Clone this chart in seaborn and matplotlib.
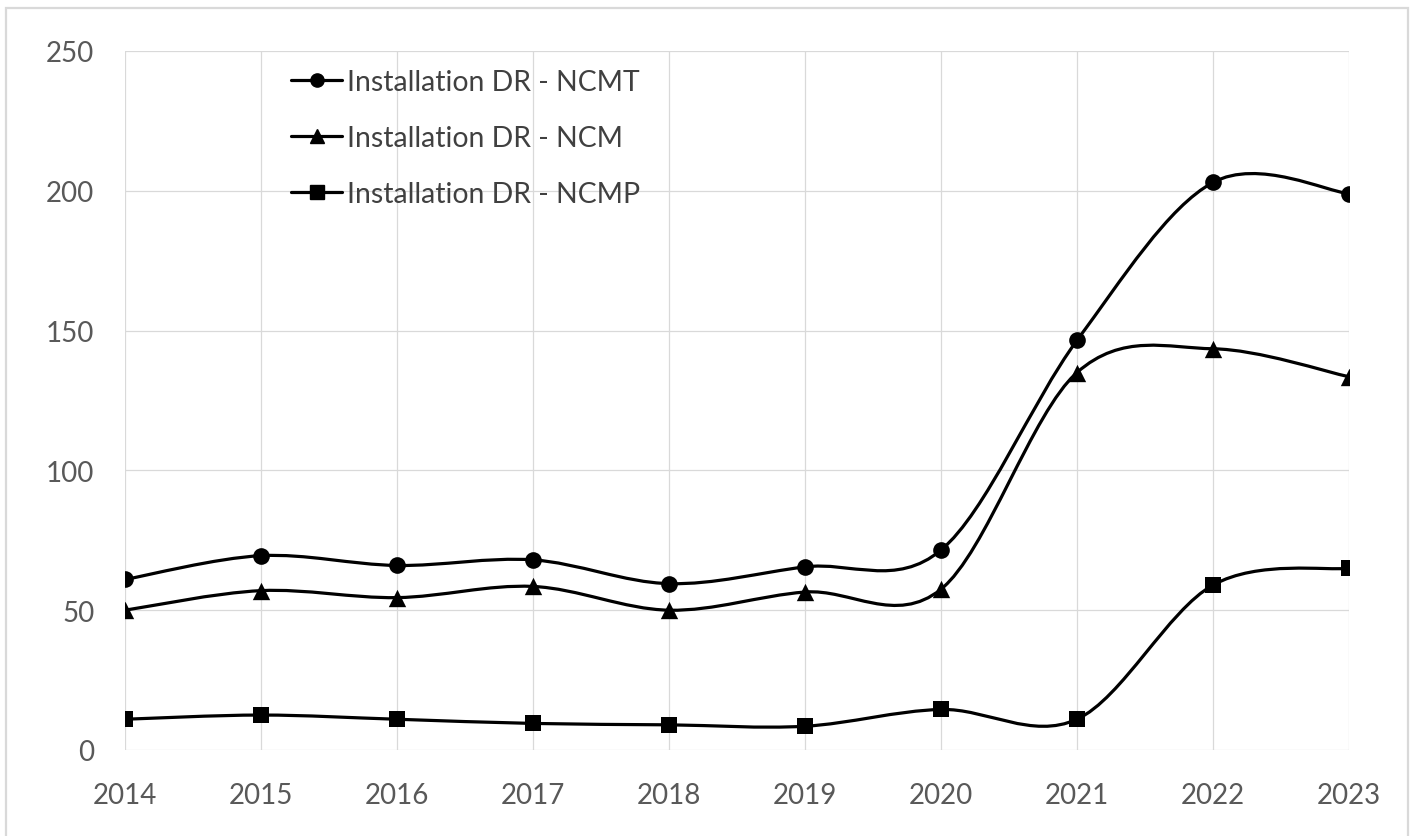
import matplotlib
matplotlib.use("Agg")
import matplotlib.pyplot as plt
from matplotlib.path import Path
from matplotlib.patches import PathPatch, Rectangle
from matplotlib.lines import Line2D
import pandas as pd
import seaborn as sb

# données
years = [2014, 2015, 2016, 2017, 2018, 2019, 2020, 2021, 2022, 2023]
ncmt = [61, 69.5, 66, 68, 59.5, 65.5, 71.5, 146.5, 203, 199]
ncm = [50, 57, 54.5, 58.5, 50, 56.5, 57.5, 135, 143.5, 133.5]
ncmp = [11, 12.5, 11, 9.5, 9, 8.5, 14.5, 11, 59, 65]
labels = ["Installation DR - NCMT", "Installation DR - NCM", "Installation DR - NCMP"]
markers = ["o", "^", "s"]
msizes = [12, 12.5, 11.5]

sb.set_style("white")
plt.rcParams["font.family"] = ["Lato", "DejaVu Sans"]

df = pd.DataFrame({
    "year": years * 3,
    "value": ncmt + ncm + ncmp,
    "serie": [labels[0]] * 10 + [labels[1]] * 10 + [labels[2]] * 10,
})

fig = plt.figure(figsize=(14.16, 8.37), dpi=100)
ax = fig.add_axes([125 / 1416, 1 - 751 / 837, (1349 - 125) / 1416, (751 - 52) / 837])

# cadre du graphique (style Excel)
fig.patches.append(Rectangle((6 / 1416, -0.05), 1402 / 1416, 1.05 - 9 / 837,
                             transform=fig.transFigure, fill=False,
                             edgecolor="#d9d9d9", linewidth=1.6))


def smooth_path(xs, ys):
    # courbe lissée façon Excel (Bezier type Catmull-Rom)
    pts = list(zip(xs, ys))
    n = len(pts)
    verts = [pts[0]]
    codes = [Path.MOVETO]
    for i in range(n - 1):
        p0 = pts[max(i - 1, 0)]
        p1 = pts[i]
        p2 = pts[i + 1]
        p3 = pts[min(i + 2, n - 1)]
        c1 = (p1[0] + (p2[0] - p0[0]) / 6, p1[1] + (p2[1] - p0[1]) / 6)
        c2 = (p2[0] - (p3[0] - p1[0]) / 6, p2[1] - (p3[1] - p1[1]) / 6)
        verts += [c1, c2, p2]
        codes += [Path.CURVE4] * 3
    return Path(verts, codes)


for vals in [ncmt, ncm, ncmp]:
    ax.add_patch(PathPatch(smooth_path(years, vals), fill=False,
                           edgecolor="black", linewidth=2.3, zorder=3))

for lab, m, ms in zip(labels, markers, msizes):
    sb.scatterplot(data=df[df["serie"] == lab], x="year", y="value",
                   marker=m, s=ms ** 2, color="black", edgecolor="black",
                   linewidth=0, ax=ax, zorder=4, legend=False)

ax.set_xlim(2014, 2023)
ax.set_ylim(0, 250)
ax.set_xticks(years)
ax.set_xticklabels([str(y) for y in years])
ax.set_yticks([0, 50, 100, 150, 200, 250])
ax.set_xlabel("")
ax.set_ylabel("")
ax.grid(True, color="#d9d9d9", linewidth=0.9)
ax.set_axisbelow(True)
for s in ax.spines.values():
    s.set_visible(False)
ax.tick_params(axis="both", length=0, labelsize=20, labelcolor="#595959")
ax.tick_params(axis="y", pad=22)
ax.tick_params(axis="x", pad=23)

handles = [Line2D([], [], color="black", linewidth=2.3, marker=m, markersize=9.5)
           for m in markers]
leg = ax.legend(handles, labels, loc="upper left",
                bbox_to_anchor=(291 / 1416, 1 - 70 / 837),
                bbox_transform=fig.transFigure, frameon=False,
                fontsize=20.4, handlelength=1.8, handletextpad=0.18,
                labelspacing=1.06, borderpad=0, borderaxespad=0)
for t in leg.get_texts():
    t.set_color("#404040")

fig.savefig("out.png", dpi=100)
